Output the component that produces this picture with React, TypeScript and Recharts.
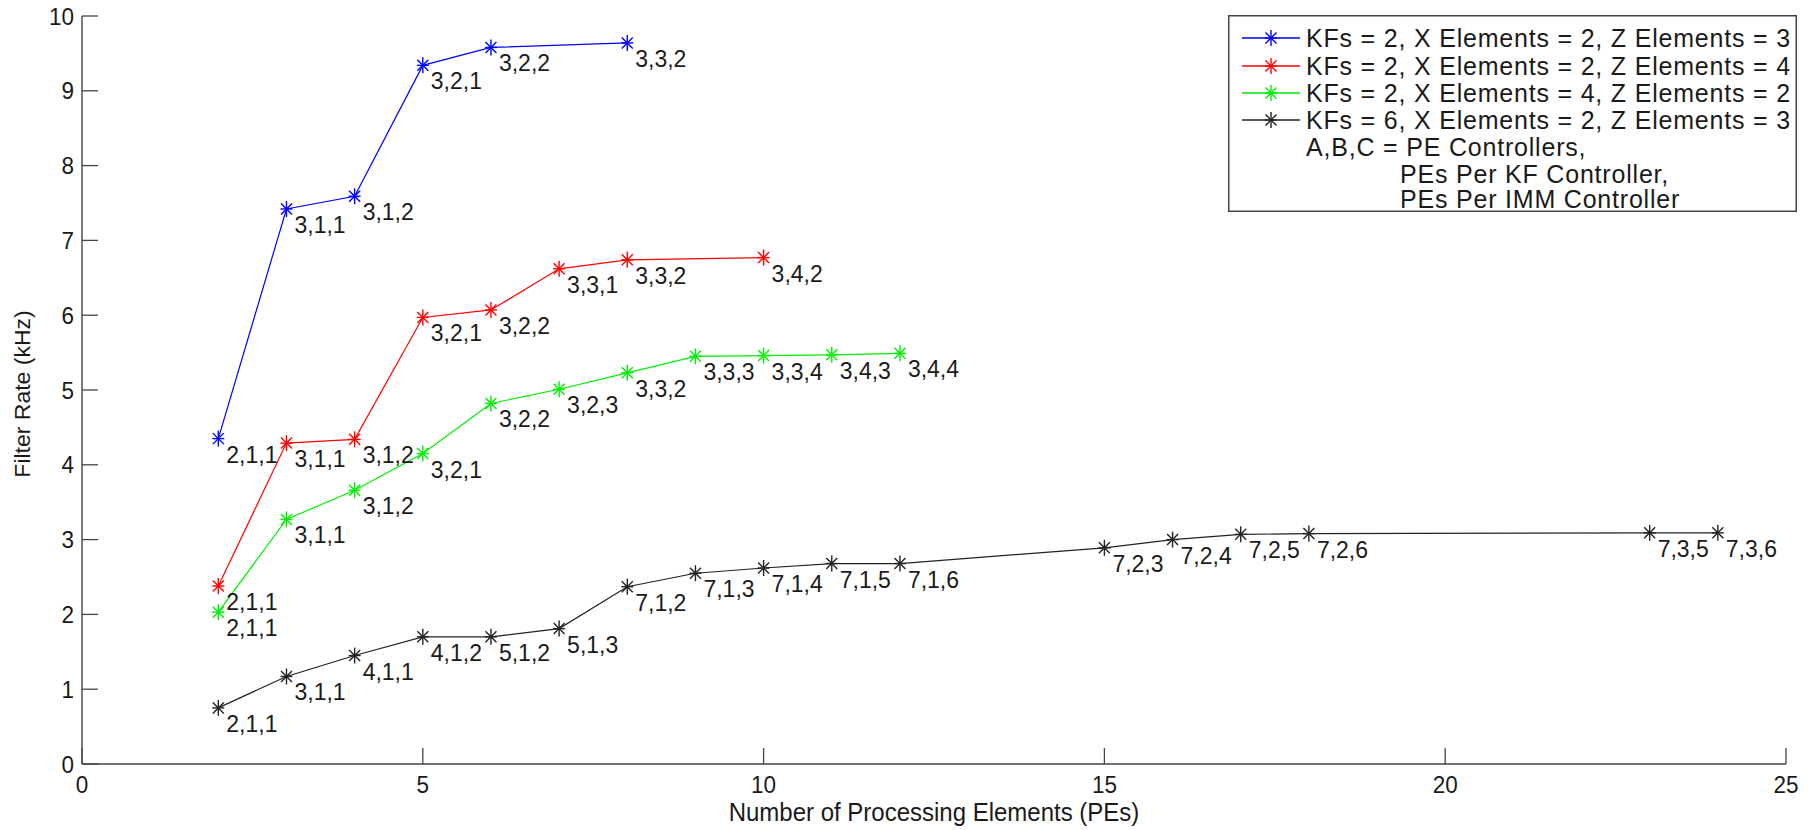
import React from "react";
import { LineChart, Line, XAxis, YAxis, LabelList } from "recharts";

const FONT = '"Liberation Sans", Arial, Helvetica, sans-serif';
const INK = "#1a1a1a";
const AXIS = "#444";
// the source figure is a little stretched vertically
const SY = 1.07;

// x = number of PEs, rate = filter rate (kHz), cfg = "A,B,C" controller split
const blueX = [2, 3, 4, 5, 6, 8];
const blueRate = [4.35, 7.42, 7.59, 9.34, 9.58, 9.64];
const blueCfg = ["2,1,1", "3,1,1", "3,1,2", "3,2,1", "3,2,2", "3,3,2"];

const redX = [2, 3, 4, 5, 6, 7, 8, 10];
const redRate = [2.38, 4.29, 4.34, 5.97, 6.07, 6.62, 6.74, 6.77];
const redCfg = ["2,1,1", "3,1,1", "3,1,2", "3,2,1", "3,2,2", "3,3,1", "3,3,2", "3,4,2"];

const greenX = [2, 3, 4, 5, 6, 7, 8, 9, 10, 11, 12];
const greenRate = [2.03, 3.27, 3.66, 4.15, 4.82, 5.01, 5.23, 5.45, 5.46, 5.47, 5.49];
const greenCfg = ["2,1,1", "3,1,1", "3,1,2", "3,2,1", "3,2,2", "3,2,3", "3,3,2", "3,3,3", "3,3,4", "3,4,3", "3,4,4"];

const blackX = [2, 3, 4, 5, 6, 7, 8, 9, 10, 11, 12, 15, 16, 17, 18, 23, 24];
const blackRate = [0.75, 1.17, 1.45, 1.7, 1.7, 1.81, 2.37, 2.55, 2.62, 2.68, 2.68, 2.89, 3.0, 3.07, 3.08, 3.09, 3.09];
const blackCfg = ["2,1,1", "3,1,1", "4,1,1", "4,1,2", "5,1,2", "5,1,3", "7,1,2", "7,1,3", "7,1,4", "7,1,5", "7,1,6", "7,2,3", "7,2,4", "7,2,5", "7,2,6", "7,3,5", "7,3,6"];

const xTicks = [0, 5, 10, 15, 20, 25];
const yTicks = [0, 1, 2, 3, 4, 5, 6, 7, 8, 9, 10];

const legendLabels = [
  "KFs = 2, X Elements = 2, Z Elements = 3",
  "KFs = 2, X Elements = 2, Z Elements = 4",
  "KFs = 2, X Elements = 4, Z Elements = 2",
  "KFs = 6, X Elements = 2, Z Elements = 3",
];
const legendNote = ["A,B,C = PE Controllers,", "PEs Per KF Controller,", "PEs Per IMM Controller"];

const toRows = (xs: number[], ys: number[], cs: string[]) =>
  xs.map((x, i) => ({ x, rate: ys[i], cfg: cs[i] }));

const series = [
  { name: legendLabels[0], color: "#0000ff", data: toRows(blueX, blueRate, blueCfg) },
  { name: legendLabels[1], color: "#ff0000", data: toRows(redX, redRate, redCfg) },
  { name: legendLabels[2], color: "#00ee00", data: toRows(greenX, greenRate, greenCfg) },
  { name: legendLabels[3], color: "#222222", data: toRows(blackX, blackRate, blackCfg) },
];

const Txt = ({ x, y, size, anchor = "start", rotate = 0, sy = SY, ls, children }: any) => (
  <text
    transform={`translate(${x} ${y})${rotate ? ` rotate(${rotate}) scale(${sy} 1)` : ` scale(1 ${sy})`}`}
    fontSize={size}
    fontFamily={FONT}
    fill={INK}
    textAnchor={anchor}
    letterSpacing={ls}
  >
    {children}
  </text>
);

const Star = ({ cx, cy, color }: any) => (
  <g stroke={color} strokeWidth={1.4}>
    <line x1={cx} y1={cy - 8} x2={cx} y2={cy + 8} />
    <line x1={cx - 6} y1={cy} x2={cx + 6} y2={cy} />
    <line x1={cx - 5.5} y1={cy - 5.5} x2={cx + 5.5} y2={cy + 5.5} />
    <line x1={cx - 5.5} y1={cy + 5.5} x2={cx + 5.5} y2={cy - 5.5} />
  </g>
);

const XTick = (p: any) => (
  <g>
    <line x1={p.x} y1={p.y} x2={p.x} y2={p.y - 16} stroke={AXIS} strokeWidth={1.3} />
    <Txt x={p.x} y={p.y + 29} size={22.5} anchor="middle">{p.payload.value}</Txt>
  </g>
);

const YTick = (p: any) => (
  <g>
    <line x1={p.x} y1={p.y} x2={p.x + 16} y2={p.y} stroke={AXIS} strokeWidth={1.3} />
    <Txt x={p.x - 8} y={p.y + 8.5} size={22.5} anchor="end">{p.payload.value}</Txt>
  </g>
);

const cfgLabel = (p: any) => (
  <Txt x={p.x + 8} y={p.y + 24} size={23}>{p.value}</Txt>
);

const LegendBox = () => {
  const rowY = [23, 51, 78, 105];
  const noteY = [132, 159, 184];
  return (
    <svg width={569} height={197} style={{ position: "absolute", left: 1228, top: 15 }}>
      <rect x={0.75} y={0.75} width={567.5} height={195.5} fill="#fff" stroke={AXIS} strokeWidth={1.5} />
      {series.map((s, i) => (
        <g key={s.name}>
          <line x1={14} y1={rowY[i]} x2={72} y2={rowY[i]} stroke={s.color} strokeWidth={1.4} />
          <Star cx={43} cy={rowY[i]} color={s.color} />
          <Txt x={78} y={rowY[i] + 8.5} size={25} sy={1} ls={0.8}>{s.name}</Txt>
        </g>
      ))}
      {legendNote.map((t, i) => (
        <Txt key={t} x={i === 0 ? 78 : 172} y={noteY[i] + 8.5} size={25} sy={1} ls={0.8}>{t}</Txt>
      ))}
    </svg>
  );
};

export default function App() {
  return (
    <div style={{ position: "absolute", left: 0, top: 0, width: 1812, height: 830, background: "#fff" }}>
      <LineChart width={1812} height={830} margin={{ top: 16, right: 26, left: 22, bottom: 6 }}>
        <XAxis
          type="number"
          dataKey="x"
          domain={[0, 25]}
          ticks={xTicks}
          height={60}
          tickSize={0}
          tickMargin={0}
          tickLine={false}
          tick={<XTick />}
          axisLine={{ stroke: AXIS, strokeWidth: 1.4 }}
          allowDuplicatedCategory={false}
          label={(p: any) => {
            const vb = p.viewBox;
            return (
              <Txt x={vb.x + vb.width / 2} y={vb.y + 57} size={24} anchor="middle">
                Number of Processing Elements (PEs)
              </Txt>
            );
          }}
        />
        <YAxis
          type="number"
          dataKey="rate"
          domain={[0, 10]}
          ticks={yTicks}
          width={60}
          tickSize={0}
          tickMargin={0}
          tickLine={false}
          tick={<YTick />}
          axisLine={{ stroke: AXIS, strokeWidth: 1.4 }}
          label={(p: any) => {
            const vb = p.viewBox;
            return (
              <Txt x={vb.x + 8} y={vb.y + vb.height / 2 + 4} size={21.5} anchor="middle" rotate={-90}>
                Filter Rate (kHz)
              </Txt>
            );
          }}
        />
        {series.map((s) => (
          <Line
            key={s.name}
            name={s.name}
            data={s.data}
            dataKey="rate"
            type="linear"
            stroke={s.color}
            strokeWidth={1.2}
            activeDot={false}
            isAnimationActive={false}
            dot={(p: any) => <Star key={`${s.name}-${p.index}`} cx={p.cx} cy={p.cy} color={s.color} />}
          >
            <LabelList dataKey="cfg" content={cfgLabel} />
          </Line>
        ))}
      </LineChart>
      <LegendBox />
    </div>
  );
}
